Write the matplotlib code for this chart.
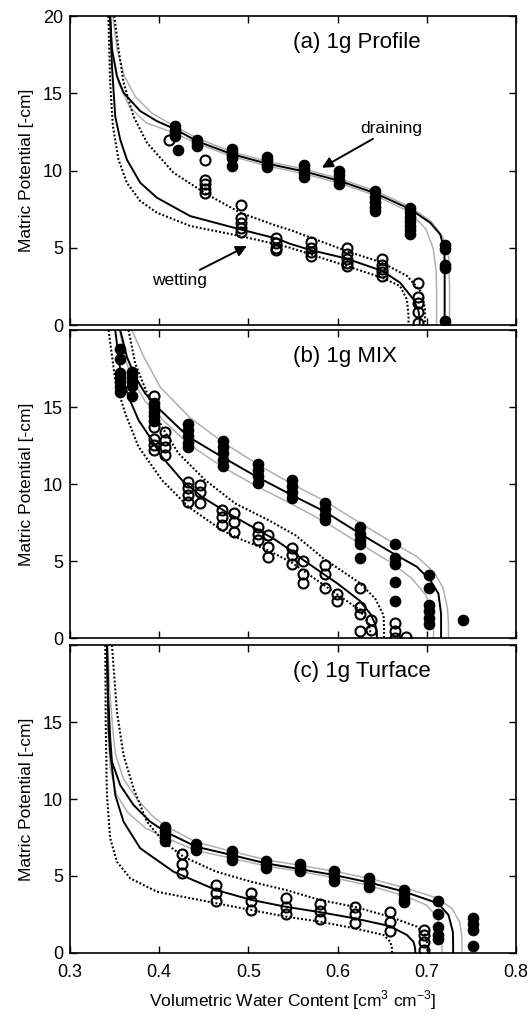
import matplotlib
matplotlib.use('Agg')
import matplotlib.pyplot as plt

plt.rcParams['font.family'] = ['Liberation Sans', 'DejaVu Sans']
plt.rcParams['mathtext.fontset'] = 'custom'
plt.rcParams['mathtext.rm'] = 'Liberation Sans'

# ---- measured retention points: (theta, [h values at that theta]) ----
profile_drain = [(0.418, [12.85, 12.65, 12.45, 12.25]), (0.421, [11.3]),
                 (0.4423, [12.0, 11.8, 11.6]), (0.482, [11.4, 11.2, 11.0, 10.8, 10.3]),
                 (0.5207, [10.9, 10.65, 10.4, 10.2]), (0.5618, [10.35, 10.1, 9.85, 9.6]),
                 (0.601, [9.95, 9.7, 9.4, 9.15]), (0.6414, [8.7, 8.3, 7.95, 7.65, 7.35]),
                 (0.6814, [7.6, 7.3, 7.0, 6.7, 6.4, 6.15, 5.9]),
                 (0.7203, [5.2, 4.95, 3.9, 3.7, 0.25])]
profile_wet = [(0.4105, [12.0]), (0.451, [10.7, 9.4, 9.1, 8.8, 8.55]),
               (0.4916, [7.8, 6.9, 6.6, 6.3, 6.0]), (0.531, [5.6, 5.3, 5.0, 4.85]),
               (0.570, [5.4, 5.0, 4.7, 4.45]), (0.6104, [5.0, 4.6, 4.3, 4.0, 3.8]),
               (0.6503, [4.3, 3.9, 3.6, 3.4, 3.2]), (0.690, [2.7, 1.8, 1.4, 0.85, 0.15])]

mix_drain = [(0.3555, [18.8, 18.1, 17.2, 16.9, 16.6, 16.3, 16.0]),
             (0.3694, [17.3, 17.0, 16.7, 16.4, 15.7]), (0.3947, [15.3, 15.0, 14.7, 14.4, 14.1]),
             (0.4322, [13.9, 13.5, 13.1, 12.7, 12.4]), (0.4714, [12.8, 12.4, 12.0, 11.6, 11.2]),
             (0.5106, [11.3, 10.9, 10.5, 10.1]), (0.5488, [10.3, 9.9, 9.5, 9.1]),
             (0.586, [8.8, 8.4, 8.0, 7.7]), (0.6246, [7.2, 6.8, 6.4, 6.1, 5.2]),
             (0.6645, [6.15, 5.2, 4.85, 3.65, 2.4]), (0.703, [4.1, 3.25, 2.15, 1.75, 1.3, 0.95]),
             (0.7405, [1.2])]
mix_wet = [(0.3947, [15.75, 13.7, 12.95, 12.55, 12.2]), (0.4067, [13.4, 12.85, 12.4, 11.9]),
           (0.4328, [10.15, 9.75, 9.3, 8.85]), (0.446, [9.95, 9.5, 8.75]),
           (0.4702, [8.3, 7.9, 7.35]), (0.4833, [8.1, 7.55, 6.9]),
           (0.5102, [7.25, 6.8, 6.4]), (0.5225, [6.7, 5.95, 5.25]),
           (0.5488, [5.85, 5.4, 4.85]), (0.5611, [5.0, 4.2, 3.6]),
           (0.586, [4.75, 4.2, 3.25]), (0.5992, [2.9, 2.4]),
           (0.6246, [3.25, 2.05, 1.6, 0.45]), (0.6377, [1.2, 0.55]),
           (0.6645, [1.0, 0.45, 0.0]), (0.677, [0.1])]

turface_drain = [(0.4067, [8.2, 7.9, 7.6, 7.3]), (0.4415, [7.1, 6.9, 6.7]),
                 (0.4815, [6.6, 6.3, 6.05]), (0.5196, [6.0, 5.75, 5.5]),
                 (0.5573, [5.8, 5.55, 5.3]), (0.5965, [5.3, 5.0, 4.7]),
                 (0.6347, [4.9, 4.6, 4.3]), (0.6747, [4.1, 3.8, 3.5, 3.3]),
                 (0.7124, [3.4, 2.5, 1.7, 1.2, 0.9]), (0.7517, [2.25, 1.9, 1.5, 0.45])]
turface_wet = [(0.4254, [6.45, 5.8, 5.2]), (0.4639, [4.4, 3.9, 3.35]),
               (0.5031, [3.9, 3.35, 2.8]), (0.542, [3.55, 3.0, 2.5]),
               (0.5805, [3.2, 2.75, 2.2]), (0.619, [3.0, 2.5, 1.95]),
               (0.6582, [2.65, 2.0, 1.4]), (0.6963, [1.5, 1.2, 0.7, 0.2])]

# ---- fitted curves, read as (theta list, h list) ----
profile_drain_fit = ([0.345, 0.347, 0.3526, 0.360, 0.3787, 0.3974, 0.418, 0.4423, 0.482, 0.5207,
                      0.5618, 0.601, 0.6414, 0.6814, 0.7038, 0.715, 0.7195, 0.720, 0.720],
                     [20, 17.85, 16.1, 15.04, 13.85, 13.2, 12.67, 11.9, 11.05, 10.45,
                      9.95, 9.35, 8.55, 7.5, 6.62, 5.87, 4.9, 4.0, 0])
profile_drain_hi = ([0.348, 0.353, 0.361, 0.373, 0.392, 0.418, 0.4423, 0.482, 0.5207, 0.5618,
                     0.601, 0.6414, 0.6814, 0.705, 0.718, 0.7245, 0.7255, 0.7255],
                    [20, 17.8, 16.1, 14.8, 13.7, 12.85, 12.1, 11.2, 10.6, 10.1,
                     9.5, 8.7, 7.65, 6.7, 5.7, 4.4, 2.5, 0])
profile_drain_lo = ([0.344, 0.348, 0.355, 0.367, 0.385, 0.418, 0.4423, 0.482, 0.5207, 0.5618,
                     0.601, 0.6414, 0.6814, 0.699, 0.707, 0.7105, 0.711, 0.711],
                    [20, 17.6, 15.6, 14.1, 13.1, 12.4, 11.75, 10.9, 10.3, 9.8,
                     9.2, 8.4, 7.3, 6.2, 5.0, 3.5, 2.0, 0])
profile_wet_fit = ([0.345, 0.347, 0.3507, 0.3563, 0.3638, 0.3787, 0.3974, 0.4348, 0.4908, 0.532,
                    0.547, 0.570, 0.61, 0.65, 0.67, 0.685, 0.6907, 0.692, 0.692],
                   [20, 16.76, 13.5, 12.0, 10.7, 9.21, 8.24, 7.05, 6.19, 5.59,
                    5.25, 4.85, 4.3, 3.5, 2.74, 1.66, 0.9, 0.4, 0])
profile_wet_lo = ([0.343, 0.345, 0.348, 0.3544, 0.3638, 0.3787, 0.3974, 0.4348, 0.4908, 0.532,
                   0.547, 0.61, 0.65, 0.67, 0.6777, 0.6795, 0.6795],
                  [20, 15.7, 12.9, 10.7, 9.2, 8.03, 7.27, 6.41, 5.76, 5.22,
                   5.0, 3.82, 3.06, 2.52, 1.66, 0.58, 0])
profile_wet_hi = ([0.3496, 0.3544, 0.360, 0.3712, 0.3862, 0.416, 0.4535, 0.4908, 0.532, 0.547,
                   0.61, 0.65, 0.678, 0.6945, 0.698, 0.698],
                  [20, 17.85, 15.7, 13.5, 11.8, 9.86, 8.46, 7.27, 6.41, 6.15,
                   4.79, 4.03, 3.17, 2.09, 1.01, 0])

mix_drain_fit = ([0.3563, 0.3638, 0.3731, 0.3843, 0.3974, 0.4328, 0.4702, 0.5095, 0.5488, 0.586,
                  0.6246, 0.659, 0.6889, 0.7038, 0.713, 0.716, 0.716],
                 [20, 18.26, 16.97, 15.89, 15.02, 13.07, 11.78, 10.48, 9.29, 8.21,
                  6.81, 5.62, 4.64, 3.78, 2.9, 1.6, 0])
mix_drain_hi = ([0.3694, 0.3824, 0.4011, 0.4347, 0.472, 0.51, 0.549, 0.586, 0.6246, 0.659,
                 0.689, 0.708, 0.718, 0.723, 0.7243, 0.7243],
                [20, 18.3, 16.3, 14.3, 12.7, 11.3, 10.0, 8.9, 7.5, 6.3,
                 5.3, 4.3, 3.3, 2.0, 1.0, 0])
mix_drain_lo = ([0.3555, 0.3625, 0.372, 0.384, 0.398, 0.433, 0.4714, 0.51, 0.549, 0.586,
                 0.6246, 0.659, 0.683, 0.699, 0.706, 0.7075, 0.7075],
                [20, 18.0, 16.6, 15.4, 14.5, 12.6, 11.1, 9.85, 8.7, 7.55,
                 6.15, 4.95, 3.9, 2.8, 1.6, 0.8, 0])
mix_wet_fit = ([0.3507, 0.3563, 0.3656, 0.3768, 0.3918, 0.403, 0.4254, 0.4478, 0.4777, 0.5076,
                0.53, 0.5488, 0.5611, 0.586, 0.6, 0.6246, 0.6366, 0.642, 0.644, 0.644],
               [20, 17.4, 15.67, 14.16, 12.86, 11.78, 10.27, 9.18, 8.1, 7.13,
                6.4, 5.65, 5.1, 4.1, 3.55, 2.45, 1.6, 0.95, 0.4, 0])
mix_wet_hi = ([0.3656, 0.3731, 0.388, 0.403, 0.4216, 0.4515, 0.4852, 0.5225, 0.5525, 0.586,
               0.6246, 0.642, 0.6515, 0.652, 0.652],
              [20, 17.83, 15.67, 13.72, 12.0, 10.27, 8.75, 7.67, 6.7, 5.1,
               3.6, 2.6, 1.5, 0.7, 0])
mix_wet_lo = ([0.3432, 0.3507, 0.3619, 0.3768, 0.403, 0.4328, 0.4702, 0.4889, 0.5225, 0.5488,
               0.586, 0.6246, 0.6346, 0.637, 0.637],
              [20, 16.75, 14.59, 12.43, 10.27, 8.53, 7.02, 6.49, 5.7, 4.9,
               3.4, 1.85, 1.0, 0.3, 0])

turface_drain_fit = ([0.3414, 0.3425, 0.345, 0.347, 0.3563, 0.3712, 0.3899, 0.4067, 0.4415, 0.4815,
                      0.5196, 0.5573, 0.5965, 0.6347, 0.6747, 0.7124, 0.7243, 0.7292, 0.7295, 0.7295],
                     [20, 17, 14, 12.42, 10.9, 9.61, 8.53, 7.88, 6.9, 6.36,
                      5.82, 5.45, 5.06, 4.59, 3.98, 3.23, 2.47, 1.38, 0.6, 0])
turface_drain_hi = ([0.3425, 0.3445, 0.348, 0.351, 0.36, 0.375, 0.3925, 0.4067, 0.4415, 0.4815,
                     0.5196, 0.5573, 0.5965, 0.6347, 0.6747, 0.71, 0.728, 0.737, 0.7394, 0.7394],
                    [20, 17, 14.5, 12.9, 11.3, 10.0, 8.9, 8.25, 7.2, 6.6,
                     6.05, 5.7, 5.3, 4.85, 4.25, 3.6, 2.9, 2.0, 1.0, 0])
turface_drain_lo = ([0.341, 0.3415, 0.343, 0.345, 0.352, 0.365, 0.385, 0.4067, 0.4415, 0.4815,
                     0.5196, 0.5573, 0.5965, 0.6347, 0.6747, 0.700, 0.712, 0.716, 0.717, 0.717],
                    [20, 17, 14, 12.0, 10.3, 9.1, 8.1, 7.5, 6.65, 6.15,
                     5.65, 5.3, 4.88, 4.38, 3.72, 3.1, 2.3, 1.3, 0.5, 0])
turface_wet_fit = ([0.3414, 0.3425, 0.3432, 0.345, 0.3507, 0.36, 0.3787, 0.416, 0.4639, 0.5031,
                    0.542, 0.5805, 0.619, 0.6582, 0.6777, 0.685, 0.687, 0.687],
                   [20, 17, 14.59, 13.07, 10.26, 8.53, 6.8, 5.28, 4.09, 3.45,
                    3.0, 2.65, 2.25, 1.75, 1.17, 0.73, 0.3, 0])
turface_wet_lo = ([0.3395, 0.340, 0.3414, 0.345, 0.3526, 0.3675, 0.3974, 0.4639, 0.5031, 0.542,
                   0.5805, 0.619, 0.6515, 0.659, 0.661, 0.661],
                  [20, 15, 10.26, 7.45, 5.93, 4.85, 3.98, 3.23, 2.79, 2.36,
                   2.03, 1.6, 1.17, 0.73, 0.3, 0])
turface_wet_hi = ([0.347, 0.3526, 0.36, 0.3712, 0.3862, 0.4048, 0.4272, 0.4639, 0.5031, 0.542,
                   0.5805, 0.619, 0.6582, 0.6889, 0.6982, 0.7008, 0.701],
                  [20, 15.67, 12.86, 10.69, 8.53, 7.23, 6.25, 5.28, 4.63, 4.09,
                   3.44, 3.0, 2.36, 1.71, 1.17, 0.52, 0])

panel_titles = ['(a) 1g Profile', '(b) 1g MIX', '(c) 1g Turface']
x_ticks = [0.3, 0.4, 0.5, 0.6, 0.7, 0.8]
y_ticks = [0, 5, 10, 15, 20]

panels = [
    (profile_drain, profile_wet,
     [profile_drain_hi, profile_drain_lo], profile_drain_fit,
     [profile_wet_lo, profile_wet_hi], profile_wet_fit),
    (mix_drain, mix_wet,
     [mix_drain_hi, mix_drain_lo], mix_drain_fit,
     [mix_wet_lo, mix_wet_hi], mix_wet_fit),
    (turface_drain, turface_wet,
     [turface_drain_hi, turface_drain_lo], turface_drain_fit,
     [turface_wet_lo, turface_wet_hi], turface_wet_fit),
]


def expand(columns):
    xs, ys = [], []
    for theta, hs in columns:
        xs += [theta] * len(hs)
        ys += hs
    return xs, ys


fig = plt.figure(figsize=(5.30, 10.15), dpi=100)
boxes = [(0.1321, 0.6798, 0.8415, 0.3044),
         (0.1321, 0.3711, 0.8415, 0.3037),
         (0.1321, 0.0611, 0.8415, 0.3034)]

axes = []
for i, (drain, wet, grays, dfit, dots, wfit) in enumerate(panels):
    ax = fig.add_axes(boxes[i])
    axes.append(ax)

    for g in grays:
        ax.plot(g[0], g[1], color='#b0b0b0', lw=1.1, zorder=2)
    for d in dots:
        ax.plot(d[0], d[1], color='k', lw=1.5, ls=(0, (0.9, 1.0)), zorder=3)
    ax.plot(dfit[0], dfit[1], color='k', lw=1.4, zorder=3)
    ax.plot(wfit[0], wfit[1], color='k', lw=1.4, zorder=3)

    x, y = expand(drain)
    ax.plot(x, y, 'o', ms=7.4, mfc='k', mec='k', zorder=4)
    x, y = expand(wet)
    ax.plot(x, y, 'o', ms=7.2, mfc='none', mec='k', mew=1.5, zorder=4)

    ax.set_xlim(0.3, 0.8)
    ax.set_ylim(0, 20)
    ax.set_xticks(x_ticks)
    ax.set_yticks(y_ticks)
    if i == 0:
        ax.set_yticklabels([str(t) for t in y_ticks])
    else:
        ax.set_yticklabels([str(t) for t in y_ticks[:-1]] + [''])
    if i < 2:
        ax.set_xticklabels([])
    else:
        ax.set_xticklabels([f'{t:.1f}' for t in x_ticks])
        ax.set_xlabel('Volumetric Water Content [cm$^3$ cm$^{-3}$]', fontsize=12.5, labelpad=5)
    ax.tick_params(direction='in', top=True, right=True, length=5, width=1.0,
                   labelsize=13, pad=5)
    ax.tick_params(axis='x', pad=8)
    for s in ax.spines.values():
        s.set_linewidth(1.2)
    ax.set_ylabel('Matric Potential [-cm]', fontsize=12.5)
    ax.yaxis.set_label_coords(-0.08, 0.5)
    ax.text(0.5, 0.915, panel_titles[i], transform=ax.transAxes, fontsize=16,
            ha='left', va='center')

# annotations in the top panel
ax = axes[0]
ax.annotate('draining', xy=(0.5824, 10.18), xytext=(0.6253, 12.23), fontsize=12.5,
            ha='left', va='bottom',
            arrowprops=dict(arrowstyle='-|>', color='k', lw=1.4, mutation_scale=16,
                            shrinkA=0, shrinkB=0))
ax.annotate('wetting', xy=(0.4983, 5.11), xytext=(0.4535, 3.39), fontsize=12.5,
            ha='right', va='top',
            arrowprops=dict(arrowstyle='-|>', color='k', lw=1.4, mutation_scale=16,
                            shrinkA=0, shrinkB=0))

fig.savefig('out.png', dpi=100)
